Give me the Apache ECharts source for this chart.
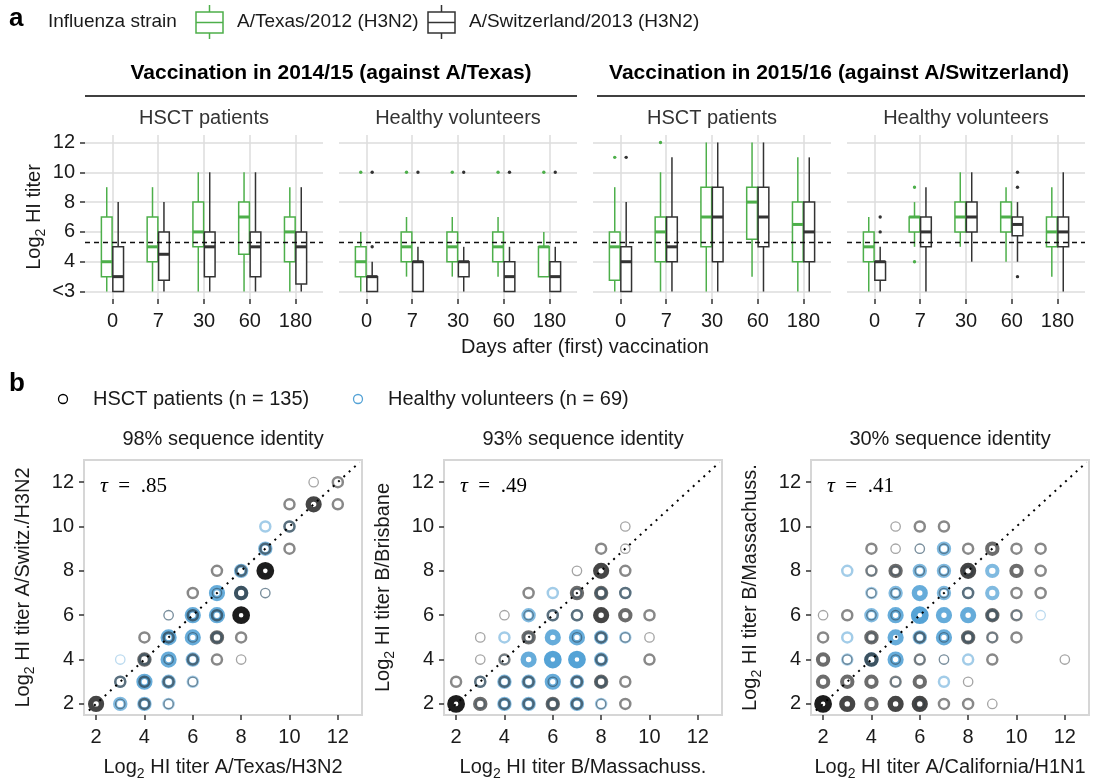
<!DOCTYPE html>
<html><head><meta charset="utf-8">
<script src="https://cdn.jsdelivr.net/npm/echarts@6/dist/echarts.min.js"></script>
<style>html,body{margin:0;padding:0;background:#fff}#c{width:1098px;height:782px}</style>
</head><body><div id="c"></div>
<script>
// ---------- DATA ----------
const days = ['0', '7', '30', '60', '180'];
const strains = ['A/Texas/2012 (H3N2)', 'A/Switzerland/2013 (H3N2)'];
const boxPanelNames = ['HSCT patients', 'Healthy volunteers', 'HSCT patients', 'Healthy volunteers'];
const boxHeaders = ['Vaccination in 2014/15 (against A/Texas)', 'Vaccination in 2015/16 (against A/Switzerland)'];
const yTickValues = [2, 4, 6, 8, 10, 12];
const yTickLabels = ['<3', '4', '6', '8', '10', '12'];
const threshold = 5.32; // log2(40)

// [day index, low whisker, q1, median, q3, high whisker]
const p1Texas = [[0,2,3,4,7,9],[1,2,4,5,7,9],[2,2,5,6,8,10],[3,2,4.5,7,8,10],[4,2,4,6,7,9]];
const p1Switz = [[0,2,2,3,5,8],[1,2,2.75,4.5,6,8],[2,2,3,5,6,10],[3,2,3,5,6,10],[4,2,2.5,5,6,9]];
const p2Texas = [[0,2,3,4,5,6],[1,3,4,5,6,7],[2,3,4,5,6,7],[3,3,4,5,6,7],[4,3,3,5,5,6]];
const p2Switz = [[0,2,2,3,3,4],[1,2,2,4,4,5],[2,2,3,4,4,5],[3,2,2,3,4,5],[4,2,2,3,4,5]];
const p3Texas = [[0,2,2.75,5,6,9],[1,2,4,6,7,10],[2,2,5,7,9,12],[3,3,5.5,8,9,12],[4,2,4,6.5,8,11]];
const p3Switz = [[0,2,2,4,5,8],[1,2,4,5,7,11],[2,2,4,7,9,12],[3,2,5,7,9,12],[4,2,4,6,8,11]];
const p4Texas = [[0,2,4,5,6,7],[1,5,6,7,7,8],[2,5,6,7,8,10],[3,4,6,7,8,9],[4,3,5,6,7,9]];
const p4Switz = [[0,2,2.75,4,4,5],[1,2,5,6,7,9],[2,4,6,7,8,10],[3,4,5.75,6.5,7,8],[4,2,5,6,7,10]];
// outliers: [day index, value]
const p1TexasOut = [];
const p1SwitzOut = [];
const p2TexasOut = [[0,10],[1,10],[2,10],[3,10],[4,10]];
const p2SwitzOut = [[0,10],[0,5],[1,10],[2,10],[3,10],[4,10]];
const p3TexasOut = [[0,11],[1,12]];
const p3SwitzOut = [[0,11]];
const p4TexasOut = [[1,9],[1,4]];
const p4SwitzOut = [[0,7],[0,6],[3,10],[3,9],[3,3]];

// scatter cells: [x, y, density level 1..5]
const s1HSCT = [[2,2,4],[3,2,1],[4,2,2],[5,2,1],[3,3,2],[4,3,2],[5,3,2],[6,3,1],
  [4,4,3],[5,4,1],[6,4,2],[7,4,2],[8,4,1],[4,5,2],[5,5,2],[6,5,1],[7,5,3],[8,5,2],
  [5,6,1],[6,6,2],[7,6,2],[8,6,5],[6,7,2],[7,7,1],[8,7,3],[9,7,1],[7,8,2],[8,8,2],[9,8,5],
  [9,9,2],[10,9,2],[10,10,2],[10,11,2],[11,11,4],[12,11,2],[11,12,1],[12,12,2]];
const s1Healthy = [[3,2,3],[4,2,3],[5,2,2],[3,3,2],[4,3,4],[5,3,3],[6,3,2],
  [3,4,1],[4,4,2],[5,4,4],[6,4,3],[5,5,4],[6,5,4],[7,5,2],[5,6,1],[6,6,4],[7,6,4],
  [7,7,4],[8,7,3],[9,7,1],[8,8,3],[9,8,1],[9,9,3],[9,10,2],[10,10,2]];
const s2HSCT = [[2,2,5],[3,2,3],[4,2,2],[5,2,2],[6,2,3],[7,2,2],[8,2,1],[9,2,2],
  [2,3,2],[3,3,2],[4,3,2],[5,3,2],[6,3,1],[7,3,2],[8,3,3],[9,3,2],
  [3,4,1],[4,4,2],[8,4,2],[10,4,2],[3,5,1],[5,5,3],[7,5,1],[8,5,2],[9,5,1],[10,5,1],
  [4,6,1],[5,6,1],[6,6,2],[7,6,2],[8,6,4],[9,6,3],[10,6,2],
  [5,7,2],[7,7,3],[8,7,3],[9,7,2],[7,8,1],[8,8,4],[9,8,2],[8,9,2],[9,9,1],[9,10,1]];
const s2Healthy = [[3,2,1],[4,2,3],[5,2,3],[6,2,2],[7,2,3],[8,2,2],
  [3,3,2],[4,3,3],[5,3,3],[6,3,4],[7,3,3],[8,3,2],
  [4,4,1],[5,4,4],[6,4,5],[7,4,5],[8,4,3],
  [4,5,2],[5,5,1],[6,5,4],[7,5,4],[8,5,3],[9,5,2],
  [5,6,3],[6,6,2],[7,6,2],[6,7,2],[7,7,1],[8,7,2],[9,7,2]];
const s3HSCT = [[2,2,5],[3,2,4],[4,2,3],[5,2,4],[6,2,4],[7,2,2],[8,2,2],[9,2,1],
  [2,3,3],[3,3,3],[4,3,3],[5,3,2],[6,3,3],[8,3,1],
  [2,4,3],[3,4,1],[4,4,3],[5,4,1],[6,4,2],[7,4,1],[9,4,2],[12,4,1],
  [2,5,2],[4,5,3],[6,5,2],[7,5,1],[8,5,3],[9,5,2],[10,5,2],
  [2,6,1],[3,6,2],[4,6,1],[5,6,1],[9,6,3],[10,6,2],
  [4,7,1],[5,7,1],[7,7,1],[8,7,2],[10,7,2],[11,7,2],
  [4,8,2],[5,8,3],[6,8,1],[7,8,1],[8,8,4],[10,8,3],[11,8,2],
  [4,9,2],[5,9,1],[6,9,1],[7,9,1],[8,9,2],[9,9,3],[10,9,2],[11,9,2],
  [5,10,1],[6,10,2],[7,10,2]];
const s3Healthy = [[6,2,1],[5,3,1],[7,3,2],
  [3,4,2],[4,4,3],[5,4,4],[6,4,1],[7,4,1],[8,4,2],
  [3,5,2],[4,5,1],[5,5,4],[6,5,3],[7,5,4],[8,5,2],[9,5,1],
  [4,6,3],[5,6,4],[6,6,5],[7,6,4],[8,6,4],[9,6,2],[10,6,1],[11,6,1],
  [4,7,2],[5,7,3],[6,7,4],[7,7,3],[8,7,2],[9,7,3],
  [3,8,2],[4,8,1],[5,8,1],[6,8,3],[7,8,3],[8,8,1],[9,8,3],
  [6,9,1],[7,9,3]];

const scatterTitles = ['98% sequence identity', '93% sequence identity', '30% sequence identity'];
const scatterXNames = ['A/Texas/H3N2', 'B/Massachuss.', 'A/California/H1N1'];
const scatterYNames = ['A/Switz./H3N2', 'B/Brisbane', 'B/Massachuss.'];
const scatterTau = ['.85', '.49', '.41'];
const groups = ['HSCT patients (n = 135)', 'Healthy volunteers (n = 69)'];
const scatterTicks = [2, 4, 6, 8, 10, 12];

// ---------- STYLE / LAYOUT ----------
const FONT = "'Liberation Sans', Arial, Helvetica, sans-serif";
const SERIF = "'Liberation Serif', 'Times New Roman', serif";
const GREEN = '#4daf4a', DARK = '#333333', BLUE = '#55a3d6', BLACK = '#111111';
const GRIDC = '#dcdcdc';
const TXT = '#1a1a1a';
const FS = 20;
const boxLefts = [85, 339, 593, 847];
const BOX_W = 238, BOX_TOP = 135, BOX_H = 164;
const scLefts = [84, 444, 811];
const SC_W = 278, SC_TOP = 460, SC_H = 258;
const BOX_OFF = 0.125, BOX_HALF = 0.117;

const RING_W = [0, 1.3, 2.5, 4.0, 5.4, 6.6];
const RING_S = [0, 9.4, 10, 10.4, 10.8, 11.2];
const BLACK_OP = [0, 0.38, 0.5, 0.62, 0.78, 0.95];
const BLUE_OP = [0, 0.4, 0.55, 0.75, 0.9, 1];

const boxData = [[p1Texas, p1Switz], [p2Texas, p2Switz], [p3Texas, p3Switz], [p4Texas, p4Switz]];
const outData = [[p1TexasOut, p1SwitzOut], [p2TexasOut, p2SwitzOut], [p3TexasOut, p3SwitzOut], [p4TexasOut, p4SwitzOut]];
const scData = [[s1HSCT, s1Healthy], [s2HSCT, s2Healthy], [s3HSCT, s3Healthy]];

const logName = (rest) => '{t|Log}{s|2}{t| ' + rest + '}';
const richName = {
  t: {fontSize: FS, fontFamily: FONT, color: TXT, lineHeight: 27},
  s: {fontSize: 14, fontFamily: FONT, color: TXT, verticalAlign: 'bottom', lineHeight: 27}
};

function boxRender(offset, color) {
  return function (params, api) {
    const x = api.value(0) + offset;
    const pLow = api.coord([x, api.value(1)]);
    const pQ1 = api.coord([x, api.value(2)]);
    const pMed = api.coord([x, api.value(3)]);
    const pQ3 = api.coord([x, api.value(4)]);
    const pHigh = api.coord([x, api.value(5)]);
    const hw = api.size([BOX_HALF, 0])[0];
    const cx = pMed[0];
    const st = {stroke: color, lineWidth: 1.5};
    return {type: 'group', children: [
      {type: 'line', shape: {x1: cx, y1: pLow[1], x2: cx, y2: pQ1[1]}, style: st},
      {type: 'line', shape: {x1: cx, y1: pQ3[1], x2: cx, y2: pHigh[1]}, style: st},
      {type: 'rect', shape: {x: cx - hw, y: pQ3[1], width: 2 * hw, height: pQ1[1] - pQ3[1]},
        style: {fill: '#fff', stroke: color, lineWidth: 1.5}},
      {type: 'line', shape: {x1: cx - hw, y1: pMed[1], x2: cx + hw, y2: pMed[1]},
        style: {stroke: color, lineWidth: 3}}
    ]};
  };
}
function outRender(offset, color) {
  return function (params, api) {
    const p = api.coord([api.value(0) + offset, api.value(1)]);
    return {type: 'circle', shape: {cx: p[0], cy: p[1], r: 1.7}, style: {fill: color}};
  };
}
function ringItems(arr, col, ops) {
  return arr.map(d => ({value: [d[0], d[1]], symbolSize: RING_S[d[2]],
    itemStyle: {color: 'rgba(0,0,0,0)', borderColor: col, borderWidth: RING_W[d[2]], opacity: ops[d[2]]}}));
}

const grid = [], xAxis = [], yAxis = [], series = [];
// box panels
boxLefts.forEach((left, i) => {
  grid.push({left: left, top: BOX_TOP, width: BOX_W, height: BOX_H, show: false});
  xAxis.push({type: 'value', gridIndex: i, min: -0.6, max: 4.6,
    axisLine: {show: false, onZero: false},
    axisTick: {show: true, customValues: [0,1,2,3,4], length: 5, lineStyle: {color: DARK, width: 1.5}},
    axisLabel: {customValues: [0,1,2,3,4], formatter: v => days[v], fontSize: FS, fontFamily: FONT, color: TXT, margin: 12},
    splitLine: {show: true, lineStyle: {color: GRIDC, width: 1.5}}});
  yAxis.push({type: 'value', gridIndex: i, min: 1.5, max: 12.5,
    axisLine: {show: false, onZero: false},
    axisTick: {show: i === 0, customValues: yTickValues, length: 5, lineStyle: {color: DARK, width: 1.5}},
    axisLabel: {show: i === 0, customValues: yTickValues, formatter: v => yTickLabels[yTickValues.indexOf(v)],
      fontSize: FS, fontFamily: FONT, color: TXT, margin: 10},
    splitLine: {show: true, lineStyle: {color: GRIDC, width: 1.5}},
    name: i === 0 ? logName('HI titer') : '',
    nameLocation: 'middle', nameGap: 35, nameTextStyle: {rich: richName}});
  [0, 1].forEach(s => {
    const off = s === 0 ? -BOX_OFF : BOX_OFF;
    const col = s === 0 ? GREEN : DARK;
    series.push({type: 'custom', name: strains[s], xAxisIndex: i, yAxisIndex: i, z: 3,
      renderItem: boxRender(off, col), encode: {x: 0, y: [1,2,3,4,5]}, data: boxData[i][s], silent: true});
    series.push({type: 'custom', xAxisIndex: i, yAxisIndex: i, z: 4,
      renderItem: outRender(off, col), encode: {x: 0, y: 1}, data: outData[i][s], silent: true});
  });
  series.push({type: 'line', xAxisIndex: i, yAxisIndex: i, data: [], z: 5,
    markLine: {silent: true, symbol: 'none', label: {show: false}, animation: false,
      lineStyle: {color: '#111', type: [5, 4], width: 1.3}, data: [{yAxis: threshold}]}});
});
// scatter panels
scLefts.forEach((left, k) => {
  const gi = 4 + k;
  grid.push({left: left, top: SC_TOP, width: SC_W, height: SC_H, show: true,
    borderColor: '#d6d6d6', borderWidth: 2, backgroundColor: '#fff'});
  xAxis.push({type: 'value', gridIndex: gi, min: 1.5, max: 13,
    axisLine: {show: false, onZero: false}, splitLine: {show: false},
    axisTick: {show: true, customValues: scatterTicks, length: 5, lineStyle: {color: DARK, width: 1.5}},
    axisLabel: {customValues: scatterTicks, fontSize: FS, fontFamily: FONT, color: TXT, margin: 12},
    name: logName('HI titer ' + scatterXNames[k]), nameLocation: 'middle', nameGap: 39,
    nameTextStyle: {rich: richName}});
  yAxis.push({type: 'value', gridIndex: gi, min: 1.5, max: 13,
    axisLine: {show: false, onZero: false}, splitLine: {show: false},
    axisTick: {show: true, customValues: scatterTicks, length: 5, lineStyle: {color: DARK, width: 1.5}},
    axisLabel: {customValues: scatterTicks, fontSize: FS, fontFamily: FONT, color: TXT, margin: 10},
    name: logName('HI titer ' + scatterYNames[k]), nameLocation: 'middle', nameGap: 47,
    nameTextStyle: {rich: richName}});
  series.push({type: 'scatter', name: groups[1], xAxisIndex: gi, yAxisIndex: gi, symbol: 'circle',
    data: ringItems(scData[k][1], BLUE, BLUE_OP), silent: true, z: 2});
  series.push({type: 'scatter', name: groups[0], xAxisIndex: gi, yAxisIndex: gi, symbol: 'circle',
    data: ringItems(scData[k][0], BLACK, BLACK_OP), silent: true, z: 3,
    markLine: {silent: true, symbol: 'none', label: {show: false}, animation: false,
      lineStyle: {color: '#000', type: [2, 5.2], width: 2},
      data: [[{coord: [1.7, 1.7]}, {coord: [12.9, 12.9]}]]}});
});

// ---------- GRAPHIC TEXT / LEGENDS ----------
const txt = (text, x, y, o = {}) => ({type: 'text', x: x, y: y, silent: true, style: Object.assign({
  text: text, fill: TXT, fontSize: FS, fontFamily: FONT, align: 'left', verticalAlign: 'middle'}, o)});
const graphic = [];
graphic.push(txt('a', 9, 19, {fontSize: 26, fontWeight: 'bold', fill: '#000'}));
graphic.push(txt('Influenza strain', 48, 22, {fontSize: 19}));
function boxIcon(x0, col) {
  return {type: 'group', x: x0, y: 0, silent: true, children: [
    {type: 'line', shape: {x1: 13.5, y1: 5, x2: 13.5, y2: 12}, style: {stroke: col, lineWidth: 1.5}},
    {type: 'line', shape: {x1: 13.5, y1: 33, x2: 13.5, y2: 39}, style: {stroke: col, lineWidth: 1.5}},
    {type: 'rect', shape: {x: 0, y: 12, width: 27, height: 21}, style: {fill: '#fff', stroke: col, lineWidth: 1.5}},
    {type: 'line', shape: {x1: 0, y1: 22.5, x2: 27, y2: 22.5}, style: {stroke: col, lineWidth: 1.5}}
  ]};
}
graphic.push(boxIcon(196, GREEN));
graphic.push(txt(strains[0], 237, 22, {fontSize: 19}));
graphic.push(boxIcon(428, DARK));
graphic.push(txt(strains[1], 469, 22, {fontSize: 19}));
graphic.push(txt(boxHeaders[0], (boxLefts[0] + boxLefts[1] + BOX_W) / 2, 73, {align: 'center', fontWeight: 'bold', fontSize: 21, fill: '#000'}));
graphic.push(txt(boxHeaders[1], (boxLefts[2] + boxLefts[3] + BOX_W) / 2, 73, {align: 'center', fontWeight: 'bold', fontSize: 21, fill: '#000'}));
graphic.push({type: 'line', silent: true, shape: {x1: boxLefts[0], y1: 96, x2: boxLefts[1] + BOX_W, y2: 96}, style: {stroke: '#000', lineWidth: 1.6}});
graphic.push({type: 'line', silent: true, shape: {x1: boxLefts[2] + 4, y1: 96, x2: boxLefts[3] + BOX_W, y2: 96}, style: {stroke: '#000', lineWidth: 1.6}});
boxLefts.forEach((l, i) => graphic.push(txt(boxPanelNames[i], l + BOX_W / 2, 118, {align: 'center', fill: '#333'})));
graphic.push(txt('Days after (first) vaccination', 585, 347, {align: 'center'}));
graphic.push(txt('b', 9, 384, {fontSize: 26, fontWeight: 'bold', fill: '#000'}));
graphic.push({type: 'circle', silent: true, shape: {cx: 63, cy: 399, r: 4.5}, style: {fill: 'none', stroke: '#000', lineWidth: 1.3}});
graphic.push(txt(groups[0], 93, 399));
graphic.push({type: 'circle', silent: true, shape: {cx: 358, cy: 399, r: 4.5}, style: {fill: 'none', stroke: BLUE, lineWidth: 1.3}});
graphic.push(txt(groups[1], 388, 399));
scLefts.forEach((l, k) => {
  graphic.push(txt(scatterTitles[k], l + SC_W / 2, 439, {align: 'center'}));
  graphic.push({type: 'text', x: l + 16, y: SC_TOP + 26, silent: true, z: 10, style: {
    text: '{i|τ}{v|  =  ' + scatterTau[k] + '}', verticalAlign: 'middle', align: 'left',
    rich: {i: {fontFamily: SERIF, fontStyle: 'italic', fontSize: 22, fill: '#000'},
           v: {fontFamily: SERIF, fontSize: 21, fill: '#000'}}}});
});

const chart = echarts.init(document.getElementById('c'), null, {renderer: 'canvas'});
chart.setOption({animation: false, backgroundColor: '#fff', grid, xAxis, yAxis, series, graphic});
</script></body></html>
